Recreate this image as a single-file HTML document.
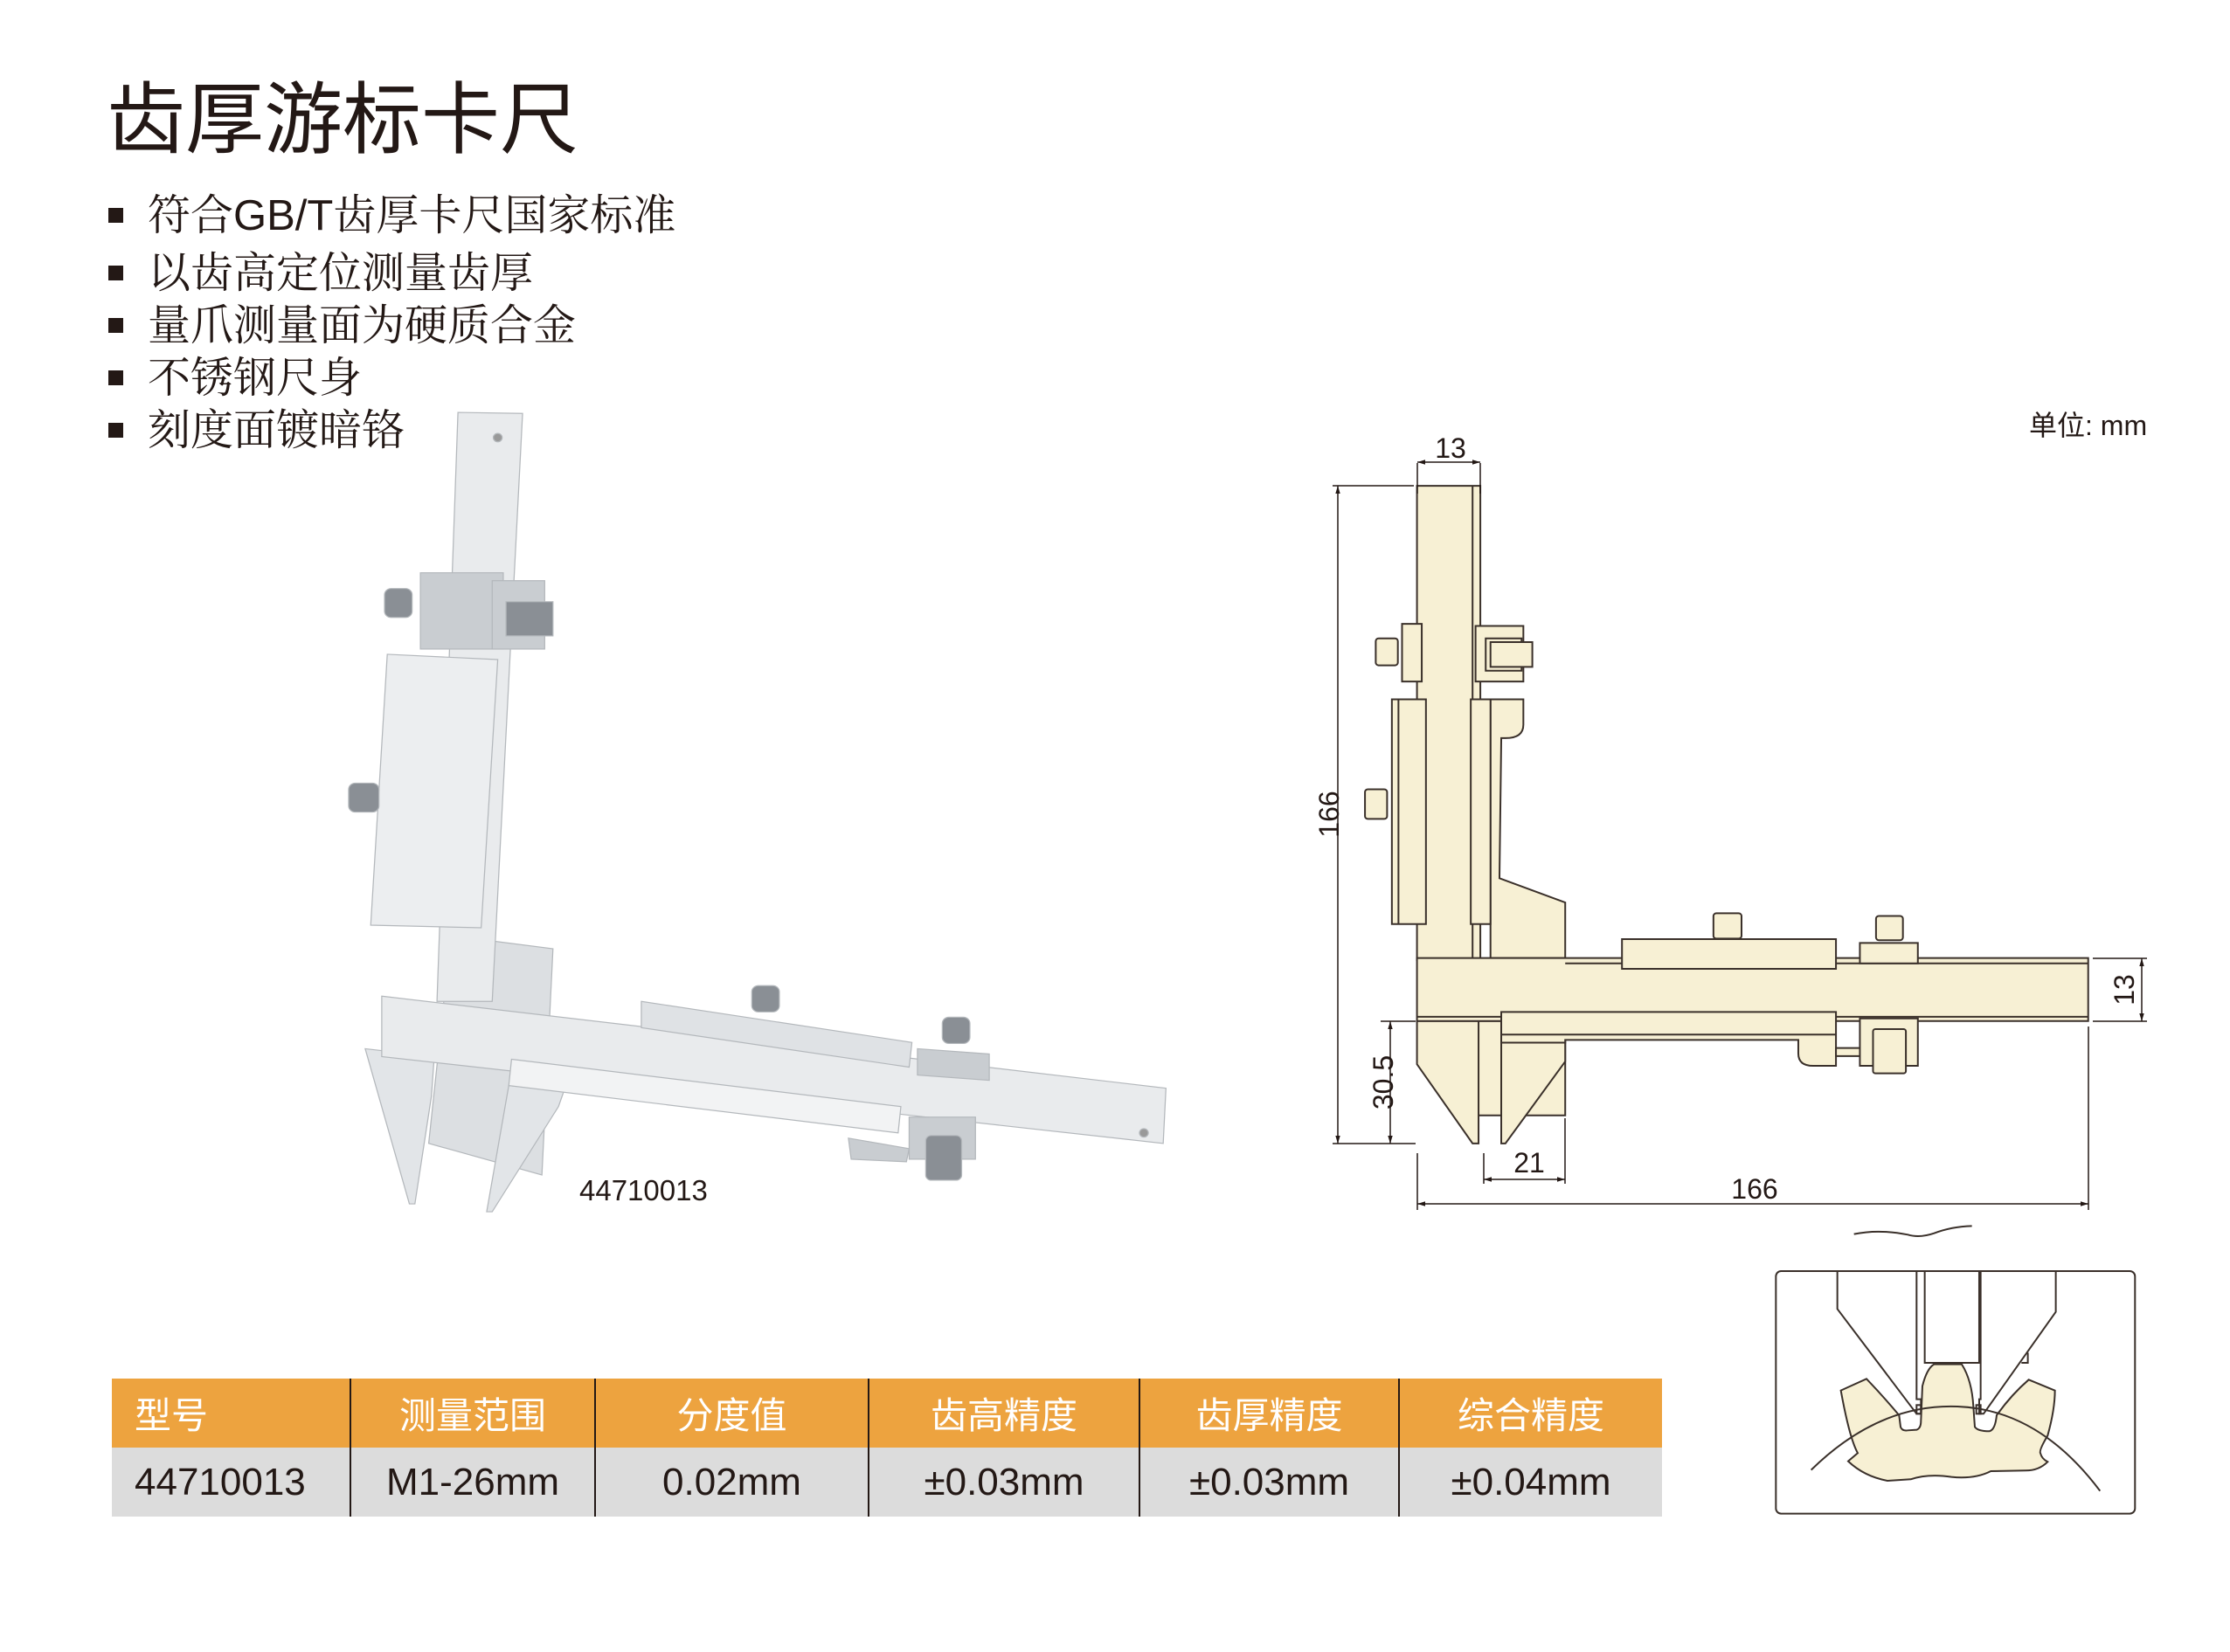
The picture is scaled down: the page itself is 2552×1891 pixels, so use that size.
<!DOCTYPE html>
<html><head><meta charset="utf-8"><style>
html,body{margin:0;padding:0;background:#fff;}
body{width:2552px;height:1891px;position:relative;overflow:hidden;font-family:"Liberation Sans","Noto Sans CJK SC",sans-serif;}
.t{position:absolute;white-space:nowrap;}
.title{left:122px;top:88px;font-size:90px;line-height:100px;font-family:"Liberation Sans","Noto Sans CJK SC",sans-serif;font-weight:400;color:#231815;}
.b{left:124px;font-size:49px;line-height:60px;font-family:"Liberation Sans","Noto Serif CJK SC","Noto Sans CJK SC",sans-serif;color:#231815;}
.b span.sq{display:inline-block;width:17px;height:17px;background:#231815;margin-right:28px;vertical-align:middle;position:relative;top:-4px;}
table{position:absolute;left:128px;top:1578px;border-collapse:collapse;}
td{padding:0;text-align:center;border-left:2px solid #231815;}
td:first-child{border-left:none;text-align:left;padding-left:26px;}
tr.h td{background:#EDA33F;color:#fff;height:79px;font-size:42px;}
tr.d td{background:#DCDCDC;color:#231815;height:79px;font-size:44px;}
</style></head><body>
<div class="t title">齿厚游标卡尺</div>
<div class="t b" style="top:217px"><span class="sq"></span>符合GB/T齿厚卡尺国家标准</div>
<div class="t b" style="top:283px"><span class="sq"></span>以齿高定位测量齿厚</div>
<div class="t b" style="top:343px"><span class="sq"></span>量爪测量面为硬质合金</div>
<div class="t b" style="top:403px"><span class="sq"></span>不锈钢尺身</div>
<div class="t b" style="top:463px"><span class="sq"></span>刻度面镀暗铬</div>
<div class="t" style="left:2322px;top:462px;font-size:32px;color:#231815;">单位: mm</div>

<!-- photo -->
<svg style="position:absolute;left:0;top:0" width="2552" height="1891">
<g transform="translate(380,460) scale(0.632,0.602)" stroke="#b4b8bc" stroke-width="2" fill="#e9ebed">
<polygon points="215,1015 400,1040 380,1470 175,1410" fill="#dcdfe2"/>
<polygon points="228,20 345,22 290,1140 190,1140"/>
<circle cx="300" cy="68" r="8" fill="#999"/>
<polygon points="100,480 300,490 270,1000 70,995" fill="#eceef0"/>
<rect x="160" y="325" width="150" height="145" fill="#c9cdd1"/>
<rect x="290" y="340" width="95" height="130" fill="#c9cdd1"/>
<rect x="315" y="380" width="85" height="65" fill="#8a8f95"/>
<rect x="95" y="355" width="50" height="55" rx="12" fill="#8a8f95"/>
<rect x="30" y="725" width="55" height="55" rx="12" fill="#8a8f95"/>
<polygon points="60,1230 185,1245 180,1320 150,1525 140,1525" fill="#e2e5e8"/>
<polygon points="320,1300 420,1310 410,1340 290,1540 280,1540" fill="#e2e5e8"/>
<polygon points="90,1130 1510,1305 1505,1410 90,1245"/>
<polygon points="325,1250 1030,1340 1025,1390 320,1300" fill="#f2f3f4"/>
<polygon points="560,1140 1050,1218 1045,1265 560,1190" fill="#dfe2e5"/>
<rect x="760" y="1110" width="50" height="50" rx="12" fill="#8a8f95"/>
<polygon points="1060,1230 1190,1240 1190,1290 1060,1280" fill="#c9cdd1"/>
<rect x="1105" y="1170" width="50" height="50" rx="12" fill="#8a8f95"/>
<polygon points="935,1400 1045,1420 1040,1445 940,1440" fill="#c9cdd1"/>
<rect x="1045" y="1360" width="120" height="80" fill="#c9cdd1"/>
<rect x="1075" y="1395" width="65" height="85" rx="10" fill="#8a8f95"/>
<circle cx="1470" cy="1390" r="8" fill="#999"/>
</g>
<text x="663" y="1374" font-size="33" font-family="Liberation Sans" fill="#231815">44710013</text>
</svg>

<!-- drawing -->
<svg style="position:absolute;left:0;top:0" width="2552" height="1891">
<defs><marker id="a" viewBox="0 0 10 10" refX="10" refY="5" markerWidth="9" markerHeight="9" orient="auto-start-reverse" markerUnits="userSpaceOnUse"><path d="M0,2 L10,5 L0,8z" fill="#231815"/></marker></defs>
<g transform="translate(1480,450) scale(0.684,0.617)" fill="#F7F0D4" stroke="#3a302a" stroke-width="2">
<rect x="300" y="1165" width="155" height="175" vector-effect="non-scaling-stroke"/>
<polygon points="207,1165 310,1165 310,1392 300,1392 207,1245" vector-effect="non-scaling-stroke"/>
<polygon points="348,1165 455,1165 455,1240 355,1392 348,1392" vector-effect="non-scaling-stroke"/>
<rect x="207" y="172" width="106" height="880" vector-effect="non-scaling-stroke"/>
<line x1="300" y1="172" x2="300" y2="1050" vector-effect="non-scaling-stroke"/>
<path d="M330,568 L385,568 L385,615 Q385,640 355,640 L348,640 L345,900 L455,945 L455,1048 L330,1048 Z" vector-effect="non-scaling-stroke"/>
<rect x="165" y="568" width="57" height="417" vector-effect="non-scaling-stroke"/>
<line x1="176" y1="568" x2="176" y2="985" vector-effect="non-scaling-stroke"/>
<rect x="297" y="568" width="33" height="417" vector-effect="non-scaling-stroke"/>
<rect x="182" y="428" width="33" height="107" vector-effect="non-scaling-stroke"/>
<rect x="138" y="455" width="37" height="50" rx="5" vector-effect="non-scaling-stroke"/>
<rect x="305" y="432" width="80" height="103" vector-effect="non-scaling-stroke"/>
<rect x="322" y="455" width="60" height="60" vector-effect="non-scaling-stroke"/>
<rect x="330" y="462" width="70" height="46" vector-effect="non-scaling-stroke"/>
<rect x="120" y="735" width="37" height="55" rx="5" vector-effect="non-scaling-stroke"/>
<rect x="207" y="1048" width="1123" height="117" vector-effect="non-scaling-stroke"/>
<line x1="207" y1="1157" x2="1330" y2="1157" vector-effect="non-scaling-stroke"/>
<line x1="455" y1="1058" x2="1330" y2="1058" vector-effect="non-scaling-stroke"/>
<rect x="550" y="1013" width="358" height="55" vector-effect="non-scaling-stroke"/>
<rect x="703" y="965" width="47" height="47" rx="5" vector-effect="non-scaling-stroke"/>
<rect x="948" y="1020" width="97" height="38" vector-effect="non-scaling-stroke"/>
<rect x="975" y="970" width="45" height="45" rx="5" vector-effect="non-scaling-stroke"/>
<path d="M348,1148 L908,1148 L908,1248 L870,1248 Q845,1248 845,1225 L845,1200 L455,1200 L455,1205 L348,1205 Z" vector-effect="non-scaling-stroke"/>
<line x1="348" y1="1190" x2="908" y2="1190" vector-effect="non-scaling-stroke"/>
<rect x="908" y="1215" width="45" height="15" vector-effect="non-scaling-stroke"/>
<rect x="948" y="1160" width="97" height="88" vector-effect="non-scaling-stroke"/>
<rect x="970" y="1180" width="55" height="82" rx="4" vector-effect="non-scaling-stroke"/>
</g>
<g stroke="#231815" stroke-width="1.5" fill="none">
<line x1="1622" y1="530" x2="1622" y2="565"/><line x1="1694" y1="530" x2="1694" y2="565"/>
<line x1="1622" y1="529" x2="1694" y2="529" marker-start="url(#a)" marker-end="url(#a)"/>
<line x1="1525" y1="556" x2="1618" y2="556"/><line x1="1525" y1="1309" x2="1620" y2="1309"/>
<line x1="1531" y1="556" x2="1531" y2="1309" marker-start="url(#a)" marker-end="url(#a)"/>
<line x1="1580" y1="1169" x2="1620" y2="1169"/>
<line x1="1591" y1="1169" x2="1591" y2="1309" marker-start="url(#a)" marker-end="url(#a)"/>
<line x1="1698" y1="1320" x2="1698" y2="1355"/><line x1="1791" y1="1280" x2="1791" y2="1355"/>
<line x1="1698" y1="1350" x2="1791" y2="1350" marker-start="url(#a)" marker-end="url(#a)"/>
<line x1="1622" y1="1320" x2="1622" y2="1385"/><line x1="2390" y1="1175" x2="2390" y2="1385"/>
<line x1="1622" y1="1378" x2="2390" y2="1378" marker-start="url(#a)" marker-end="url(#a)"/>
<line x1="2395" y1="1097" x2="2457" y2="1097"/><line x1="2395" y1="1169" x2="2457" y2="1169"/>
<line x1="2451" y1="1097" x2="2451" y2="1169" marker-start="url(#a)" marker-end="url(#a)"/>
</g>
<g font-family="Liberation Sans" font-size="32" fill="#231815" text-anchor="middle">
<text x="1660" y="524">13</text>
<text x="1750" y="1342">21</text>
<text x="2008" y="1372">166</text>
<text transform="translate(1532,932) rotate(-90)">166</text>
<text transform="translate(1594,1239) rotate(-90)">30.5</text>
<text transform="translate(2442,1133) rotate(-90)">13</text>
</g>

<!-- gear inset -->
<g transform="translate(2000,1380) scale(0.3333)" stroke="#3a302a" stroke-width="6" fill="none">
<path d="M365,98 Q450,80 550,100 Q590,112 640,95 Q700,72 770,70"/>
<path d="M320,635 L408,595 Q470,660 520,720 L525,760 Q530,775 550,772 L580,770 Q595,765 595,740 L600,620 Q615,560 640,545 L735,545 Q770,600 775,690 L780,760 Q790,775 830,775 Q850,770 855,720 Q905,650 965,598 L1055,635 Q1055,700 1030,790 Q1000,840 1005,850 Q1010,870 1030,880 Q1000,910 955,910 L835,912 Q780,940 700,932 Q620,920 560,940 L480,945 Q400,930 345,878 L378,850 Q350,800 320,635 Z" fill="#F7F0D4"/>
<rect x="97" y="225" width="1233" height="833" rx="18"/>
<path d="M308,225 L308,355 L580,715 L595,715 L595,665 L580,665 L580,225"/>
<path d="M608,225 L608,540 L795,540 L795,225"/>
<path d="M580,225 L608,225 M795,225 L1058,225 L1058,365 L810,715 L795,715 L795,665 L800,665 L800,225"/>
<path d="M940,540 L962,540 L962,505"/>
<rect x="580" y="685" width="15" height="30"/><rect x="785" y="685" width="15" height="30"/>
<path d="M218,908 Q450,680 720,690 Q1000,700 1210,980"/>
</g>
</svg>

<table>
<tr class="h"><td style="width:246px">型号</td><td style="width:278px">测量范围</td><td style="width:311px">分度值</td><td style="width:308px">齿高精度</td><td style="width:295px">齿厚精度</td><td style="width:300px">综合精度</td></tr>
<tr class="d"><td>44710013</td><td>M1-26mm</td><td>0.02mm</td><td>±0.03mm</td><td>±0.03mm</td><td>±0.04mm</td></tr>
</table>
</body></html>
